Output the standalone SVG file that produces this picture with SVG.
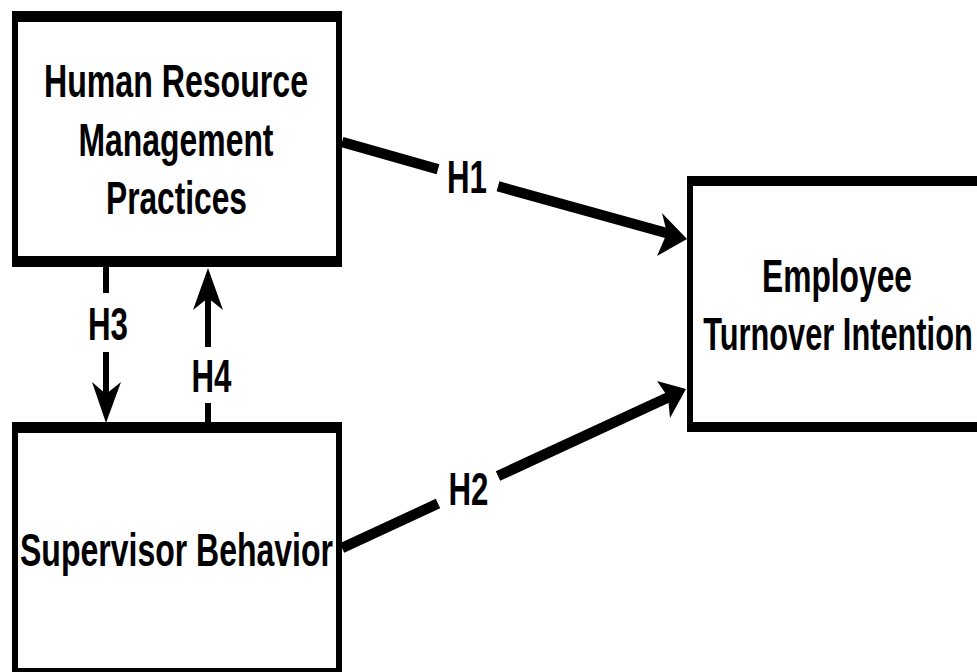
<svg xmlns="http://www.w3.org/2000/svg" width="977" height="672" viewBox="0 0 977 672">
<style>
.box{fill:#000;fill-rule:evenodd}
.bg{fill:#fff}
.t{font-family:"Liberation Sans",Arial,sans-serif;font-weight:bold;font-size:46px;fill:#000;text-anchor:middle}
.d{stroke:#000;stroke-width:10.5;fill:none;stroke-linecap:butt}
.v{stroke:#000;stroke-width:6;fill:none;stroke-linecap:butt}
.ah{fill:#000}
</style>
<rect width="977" height="672" fill="#fff"/>
<g id="hrm">
<rect class="bg" x="18" y="22" width="318" height="234"/>
<path class="box" d="M12 11H342V267H12Z M18 22V256H336V22Z"/>
<text class="t" x="176" y="97" textLength="264" lengthAdjust="spacingAndGlyphs">Human Resource</text>
<text class="t" x="176" y="156" textLength="195" lengthAdjust="spacingAndGlyphs">Management</text>
<text class="t" x="176.5" y="214" textLength="141" lengthAdjust="spacingAndGlyphs">Practices</text>
</g>
<g id="supervisor">
<rect class="bg" x="18" y="433" width="318" height="235"/>
<path class="box" d="M12 422H342V680H12Z M18 433V668H336V433Z"/>
<text class="t" x="176.5" y="566" textLength="313" lengthAdjust="spacingAndGlyphs">Supervisor Behavior</text>
</g>
<g id="employee">
<rect class="bg" x="693" y="186" width="301" height="236"/>
<path class="box" d="M687 176H1000V432H687Z M693 186V422H994V186Z"/>
<text class="t" transform="translate(837 292) scale(0.691 1)">Employee</text>
<text class="t" transform="translate(838 350) scale(0.669 1)">Turnover Intention</text>
</g>
<g id="connectors">
<path class="d" d="M342 142L438 169.3M498 186.3L670 234"/>
<polygon class="ah" points="687,239 662,213 667,233 657,256"/>
<text class="t" x="467" y="193" textLength="40" lengthAdjust="spacingAndGlyphs">H1</text>
<path class="d" d="M342 548L438 503.6M498 476 670 396.5"/>
<polygon class="ah" points="686,389 657,381 668,397 670,418"/>
<text class="t" x="468.5" y="505" textLength="40" lengthAdjust="spacingAndGlyphs">H2</text>
<path class="v" d="M106 267V293M106 352V396"/>
<polygon class="ah" points="106,423 92,382 106,394 121,382"/>
<text class="t" x="108" y="340" textLength="40" lengthAdjust="spacingAndGlyphs">H3</text>
<path class="v" d="M208 422V403M208 347V296"/>
<polygon class="ah" points="208,268 193,310 208,298 223,310"/>
<text class="t" x="211.5" y="392" textLength="40" lengthAdjust="spacingAndGlyphs">H4</text>
</g>
</svg>
